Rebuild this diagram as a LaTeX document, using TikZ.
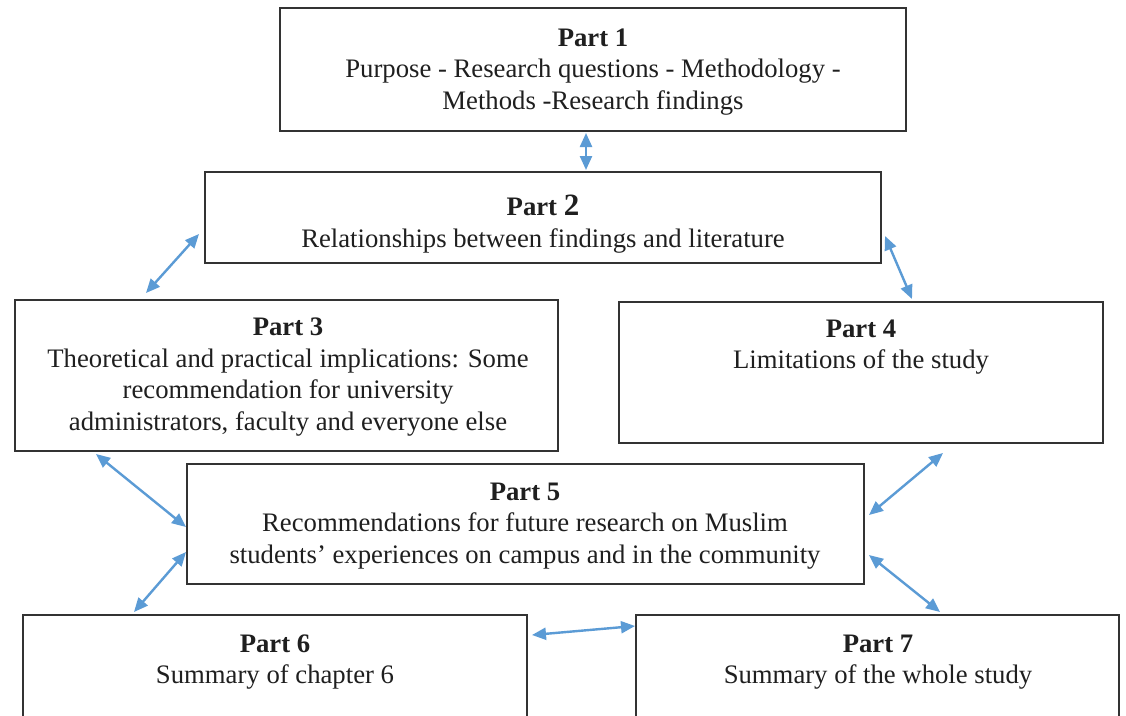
\documentclass[tikz,border=0pt]{standalone}
\usepackage{fontspec}
\setmainfont{Liberation Serif}
\usetikzlibrary{arrows.meta,calc}
\definecolor{linkblue}{HTML}{5B9BD5}
\definecolor{frame}{HTML}{333333}
\tikzset{
  box/.style={draw=frame, line width=2pt, fill=white, inner sep=0pt},
  txt/.style={align=center, inner sep=0pt, font=\fontsize{26.7}{31.5}\selectfont, text=black!88},
  link/.style={draw=linkblue, line width=2.4pt,
    {Triangle[length=14pt,width=12pt]}-{Triangle[length=14pt,width=12pt]}},
}
\begin{document}
\begin{tikzpicture}[x=1pt,y=-1pt]
\useasboundingbox (0,0) rectangle (1126,715);
\fill[white] (0,0) rectangle (1126,715);
\begin{scope}
\clip (0,0) rectangle (1126,715);
% boxes
\node[box, minimum width=626pt, minimum height=123pt] (p1) at (593,69.5) {};
\node[box, minimum width=676pt, minimum height=91pt]  (p2) at (543,217.5) {};
\node[box, minimum width=543pt, minimum height=151pt] (p3) at (286.5,375.5) {};
\node[box, minimum width=484pt, minimum height=141pt] (p4) at (861,372.5) {};
\node[box, minimum width=677pt, minimum height=120pt] (p5) at (525.5,524) {};
\node[box, minimum width=504pt, minimum height=140pt] (p6) at (275,685) {};
\node[box, minimum width=483pt, minimum height=140pt] (p7) at (877.5,685) {};
% texts
\node[txt] (t1) at (593,72) {\textbf{Part 1}\\Purpose - Research questions - Methodology -\\Methods -Research findings};
\node[txt] (t2) at (543,224) {\textbf{Part {\fontsize{31}{31}\selectfont 2}}\\Relationships between findings and literature};
\node[txt] (t3) at (288,377) {\textbf{Part 3}\\Theoretical and practical implications: Some\\recommendation for university\\administrators, faculty and everyone else};
\node[txt] (t4) at (861,347) {\textbf{Part 4}\\Limitations of the study};
\node[txt] (t5) at (525,526) {\textbf{Part 5}\\Recommendations for future research on Muslim\\students' experiences on campus and in the community};
\node[txt] (t6) at (275,662) {\textbf{Part 6}\\Summary of chapter 6};
\node[txt] (t7) at (878,662) {\textbf{Part 7}\\Summary of the whole study};
\end{scope}
% connectors
\draw[link] ($(p1.south west)+(307,1)$) -- ($(p2.north west)+(382,-1)$);
\draw[link] ($(p2.north west)+(-5,63)$) -- ($(p3.north west)+(132,-6)$);
\draw[link] ($(p2.north east)+(3,65)$) -- ($(p4.north west)+(294,-2)$);
\draw[link] ($(p3.south west)+(82,2)$) -- ($(p5.north west)+(0,64)$);
\draw[link] ($(p4.south west)+(325,9)$) -- ($(p5.north east)+(4,52)$);
\draw[link] ($(p5.north west)+(0,89)$) -- ($(p6.north west)+(112,-2)$);
\draw[link] ($(p5.north east)+(4,92)$) -- ($(p7.north west)+(305,-2)$);
\draw[link] ($(p6.north east)+(4,21)$) -- ($(p7.north west)+(0,12)$);
\end{tikzpicture}
\end{document}
